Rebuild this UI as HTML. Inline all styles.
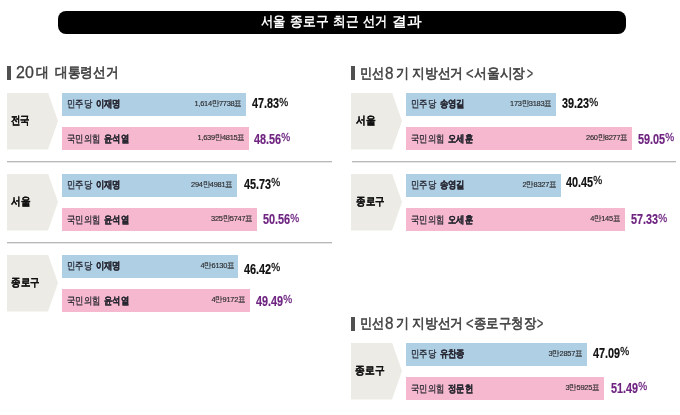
<!DOCTYPE html>
<html><head><meta charset="utf-8"><style>
*{margin:0;padding:0;box-sizing:border-box}
html,body{width:680px;height:415px;overflow:hidden;background:#fff}
body{position:relative;font-family:"Liberation Sans",sans-serif;color:#222}
#title{position:absolute;left:58px;top:10.5px;width:568px;height:23px;background:#000;border-radius:8px}
#w{position:absolute;left:0;top:0;width:680px;height:415px;will-change:transform}
.seg{position:absolute;white-space:nowrap}
.seg span{transform-origin:0 0}
.seg.tt{color:#fff}
.seg.th,.seg.thd{color:#414141}
.seg.tl{color:#111}
.hbar{position:absolute;width:4px;height:14px;background:#505050}
.pent{position:absolute;width:51px;height:57px;background:#ecebe6;clip-path:polygon(0 0,41px 0,51px 50%,41px 100%,0 100%)}
.bar{position:absolute;height:23px;line-height:23px}
.bar.b{background:#afcfe5}
.bar.p{background:#f5b8ce;height:22.5px}
.pn{position:absolute;left:5px;top:-0.5px;font-size:9.5px;color:#262630;-webkit-text-stroke:0.28px currentColor;word-spacing:1.5px;transform:scaleX(0.835);transform-origin:0 50%}
.pn b{font-weight:bold;-webkit-text-stroke:0.2px currentColor}
.vt{position:absolute;right:4.5px;top:-0.8px;font-size:8px;color:#2a2a2a;-webkit-text-stroke:0.15px currentColor;letter-spacing:-0.3px;transform:scaleX(0.93);transform-origin:100% 50%}
.pct{position:absolute;height:23px;white-space:nowrap}
.num{position:absolute;left:0;top:5.3px;font-size:15.5px;line-height:16px;font-weight:bold;-webkit-text-stroke:0.2px currentColor;transform:scaleX(0.70);transform-origin:0 0}
.pct.b{color:#111}
.pct.p{color:#6e2480}
.pc{font-size:11px;line-height:11px;font-weight:normal;-webkit-text-stroke:0.3px currentColor;vertical-align:top;margin-top:1.5px;transform:scaleX(1.3);transform-origin:0 0;margin-left:0.3px}
.sep{position:absolute;height:2px;background:linear-gradient(#b8b8b8 50%,#e6e6e6 50%)}

.tt{font-size:13.5px;font-weight:bold;line-height:20px}
.th{font-size:14px;line-height:20px;-webkit-text-stroke:0.6px currentColor}
.thd{font-size:16.2px;line-height:20px;-webkit-text-stroke:0.3px currentColor}
.tl{font-size:11px;font-weight:bold;line-height:20px;-webkit-text-stroke:0.15px currentColor}
span{display:inline-block;white-space:nowrap}
</style></head>
<body><div id="w">
<div id="title"></div>
<div class="hbar" style="left:7px;top:66px"></div>
<div class="hbar" style="left:351px;top:66px"></div>
<div class="hbar" style="left:351px;top:317px"></div>
<div class="pent" style="left:7px;top:92.5px"></div>
<div class="bar b" style="left:62px;top:92.5px;width:184.2px"><span class="pn">민주당 <b>이재명</b></span><span class="vt">1,614만7738표</span></div>
<div class="pct b" style="left:251.7px;top:90.2px"><span class="num">47.83<span class="pc">%</span></span></div>
<div class="bar p" style="left:62px;top:127.0px;width:186.8px"><span class="pn">국민의힘 <b>윤석열</b></span><span class="vt">1,639만4815표</span></div>
<div class="pct p" style="left:254.1px;top:125.3px"><span class="num">48.56<span class="pc">%</span></span></div>
<div class="pent" style="left:7px;top:173.5px"></div>
<div class="bar b" style="left:62px;top:173.5px;width:175.2px"><span class="pn">민주당 <b>이재명</b></span><span class="vt">294만4981표</span></div>
<div class="pct b" style="left:243.7px;top:170.6px"><span class="num">45.73<span class="pc">%</span></span></div>
<div class="bar p" style="left:62px;top:208.0px;width:194.6px"><span class="pn">국민의힘 <b>윤석열</b></span><span class="vt">325만5747표</span></div>
<div class="pct p" style="left:262.5px;top:205.9px"><span class="num">50.56<span class="pc">%</span></span></div>
<div class="pent" style="left:7px;top:254.5px"></div>
<div class="bar b" style="left:62px;top:254.5px;width:176.2px"><span class="pn">민주당 <b>이재명</b></span><span class="vt">4만6130표</span></div>
<div class="pct b" style="left:243.9px;top:255.5px"><span class="num">46.42<span class="pc">%</span></span></div>
<div class="bar p" style="left:62px;top:289.0px;width:187.8px"><span class="pn">국민의힘 <b>윤석열</b></span><span class="vt">4만9172표</span></div>
<div class="pct p" style="left:255.7px;top:287.3px"><span class="num">49.49<span class="pc">%</span></span></div>
<div class="pent" style="left:351px;top:92.5px"></div>
<div class="bar b" style="left:406px;top:92.5px;width:150.1px"><span class="pn">민주당 <b>송영길</b></span><span class="vt">173만3183표</span></div>
<div class="pct b" style="left:561.7px;top:90.2px"><span class="num">39.23<span class="pc">%</span></span></div>
<div class="bar p" style="left:406px;top:127.0px;width:225.5px"><span class="pn">국민의힘 <b>오세훈</b></span><span class="vt">260만8277표</span></div>
<div class="pct p" style="left:637.5px;top:125.3px"><span class="num">59.05<span class="pc">%</span></span></div>
<div class="pent" style="left:351px;top:173.5px"></div>
<div class="bar b" style="left:406px;top:173.5px;width:155.0px"><span class="pn">민주당 <b>송영길</b></span><span class="vt">2만8327표</span></div>
<div class="pct b" style="left:566.1px;top:168.4px"><span class="num">40.45<span class="pc">%</span></span></div>
<div class="bar p" style="left:406px;top:208.0px;width:218.7px"><span class="pn">국민의힘 <b>오세훈</b></span><span class="vt">4만145표</span></div>
<div class="pct p" style="left:630.7px;top:206.2px"><span class="num">57.33<span class="pc">%</span></span></div>
<div class="pent" style="left:351px;top:342.5px"></div>
<div class="bar b" style="left:406px;top:342.5px;width:180.7px"><span class="pn">민주당 <b>유찬종</b></span><span class="vt">3만2857표</span></div>
<div class="pct b" style="left:592.9px;top:339.5px"><span class="num">47.09<span class="pc">%</span></span></div>
<div class="bar p" style="left:406px;top:377.0px;width:198.0px"><span class="pn">국민의힘 <b>정문헌</b></span><span class="vt">3만5925표</span></div>
<div class="pct p" style="left:610.5px;top:374.5px"><span class="num">51.49<span class="pc">%</span></span></div>
<div class="sep" style="left:6.5px;top:161px;width:325.5px"></div>
<div class="sep" style="left:6.5px;top:242px;width:325.5px"></div>
<div class="sep" style="left:352px;top:161px;width:324px"></div>
<div class="seg tt" style="left:260.76px;top:11.98px"><span style="transform:scaleX(0.8792)">서울</span></div>
<div class="seg tt" style="left:290.09px;top:11.98px"><span style="transform:scaleX(0.9127)">종로구</span></div>
<div class="seg tt" style="left:333.34px;top:11.98px"><span style="transform:scaleX(0.9042)">최근</span></div>
<div class="seg tt" style="left:363.48px;top:11.98px"><span style="transform:scaleX(0.8658)">선거</span></div>
<div class="seg tt" style="left:391.73px;top:11.98px"><span style="transform:scaleX(1.0454)">결과</span></div>
<div class="seg thd" style="left:16.26px;top:61.52px"><span style="transform:scaleX(0.9885)">20</span></div>
<div class="seg th" style="left:36.00px;top:61.92px"><span style="transform:scaleX(0.9167)">대</span></div>
<div class="seg th" style="left:54.76px;top:61.92px"><span style="transform:scaleX(0.9083)">대통령선거</span></div>
<div class="seg th" style="left:360.13px;top:62.96px"><span style="transform:scaleX(0.8663)">민선</span></div>
<div class="seg thd" style="left:384.76px;top:62.56px"><span style="transform:scaleX(0.9410)">8</span></div>
<div class="seg th" style="left:395.57px;top:62.96px"><span style="transform:scaleX(0.9329)">기</span></div>
<div class="seg th" style="left:412.44px;top:62.96px"><span style="transform:scaleX(0.9139)">지방선거</span></div>
<div class="seg thd" style="left:465.74px;top:62.56px"><span style="transform:scaleX(0.8070)">&lt;</span></div>
<div class="seg th" style="left:473.74px;top:62.96px"><span style="transform:scaleX(0.9151)">서울시장</span></div>
<div class="seg thd" style="left:526.50px;top:62.56px"><span style="transform:scaleX(0.6382)">&gt;</span></div>
<div class="seg th" style="left:360.13px;top:312.92px"><span style="transform:scaleX(0.8663)">민선</span></div>
<div class="seg thd" style="left:384.76px;top:312.52px"><span style="transform:scaleX(0.9410)">8</span></div>
<div class="seg th" style="left:395.57px;top:312.92px"><span style="transform:scaleX(0.9329)">기</span></div>
<div class="seg th" style="left:412.44px;top:312.92px"><span style="transform:scaleX(0.9139)">지방선거</span></div>
<div class="seg thd" style="left:465.74px;top:312.52px"><span style="transform:scaleX(0.8070)">&lt;</span></div>
<div class="seg th" style="left:473.62px;top:312.92px"><span style="transform:scaleX(0.8841)">종로구청장</span></div>
<div class="seg thd" style="left:537.00px;top:312.52px"><span style="transform:scaleX(0.6667)">&gt;</span></div>
<div class="seg tl" style="left:10.74px;top:110.48px"><span style="transform:scaleX(0.8541)">전국</span></div>
<div class="seg tl" style="left:10.74px;top:191.48px"><span style="transform:scaleX(0.8755)">서울</span></div>
<div class="seg tl" style="left:10.74px;top:272.24px"><span style="transform:scaleX(0.8643)">종로구</span></div>
<div class="seg tl" style="left:355.50px;top:110.48px"><span style="transform:scaleX(0.8869)">서울</span></div>
<div class="seg tl" style="left:355.76px;top:191.24px"><span style="transform:scaleX(0.8643)">종로구</span></div>
<div class="seg tl" style="left:354.98px;top:360.00px"><span style="transform:scaleX(0.8885)">종로구</span></div>
</div></body></html>
